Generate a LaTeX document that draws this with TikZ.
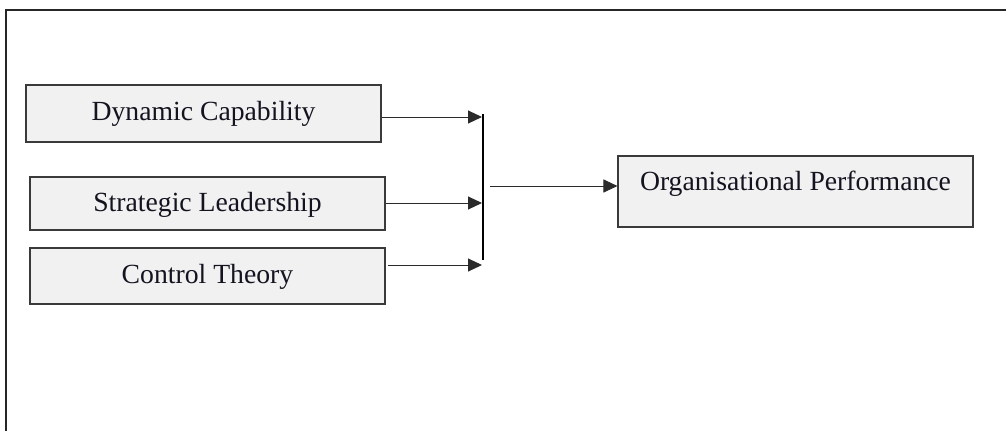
\documentclass[tikz,border=0pt]{standalone}
\usepackage{fontspec}
\setmainfont{Liberation Serif}
\usetikzlibrary{arrows.meta}
\definecolor{boxfill}{HTML}{F1F1F1}
\definecolor{boxline}{HTML}{3A3A3A}
\definecolor{frameline}{HTML}{262626}
\definecolor{arrline}{HTML}{2A2A2A}
\definecolor{txt}{HTML}{141420}
\tikzset{
  box/.style={draw=boxline, line width=1.1pt, fill=boxfill, inner sep=0pt,
    font=\fontsize{27.7}{33}\selectfont, text=txt, align=center},
  arr/.style={draw=arrline, line width=1pt, -{Triangle[length=14pt,width=13pt]}},
  bar/.style={draw=black, line width=1.3pt},
  frame/.style={draw=frameline, line width=2pt}
}
\begin{document}
\begin{tikzpicture}[x=1pt,y=-1pt]
\useasboundingbox (0,0) rectangle (1006,431);
\draw[frame] (6,431) -- (6,10) -- (1010,10);
\node[box, minimum width=355pt, minimum height=57pt, text height=20pt, text depth=7pt] (b1) at (203.5,113.5) {Dynamic Capability};
\node[box, minimum width=355pt, minimum height=53pt, text height=20pt, text depth=5pt] (b2) at (207.5,203.5) {Strategic Leadership};
\node[box, minimum width=355pt, minimum height=56pt, text height=20pt, text depth=6pt] (b3) at (207.5,276) {Control Theory};
\node[box, minimum width=355pt, minimum height=71pt, text height=20pt, text depth=22pt] (b4) at (795.5,191.5) {Organisational Performance};
\coordinate (t1) at (482,117);
\coordinate (t2) at (482,203);
\coordinate (t3) at (482,265);
\coordinate (vtop) at (483,114);
\coordinate (vbot) at (483,260);
\coordinate (s4) at (490,186);
\draw[arr] (b1.east |- t1) -- (t1);
\draw[arr] (b2.east |- t2) -- (t2);
\draw[arr] ([xshift=2pt]b3.east |- t3) -- (t3);
\draw[bar] (vtop) -- (vbot);
\draw[arr] (s4) -- (b4.west |- s4);
\end{tikzpicture}
\end{document}
